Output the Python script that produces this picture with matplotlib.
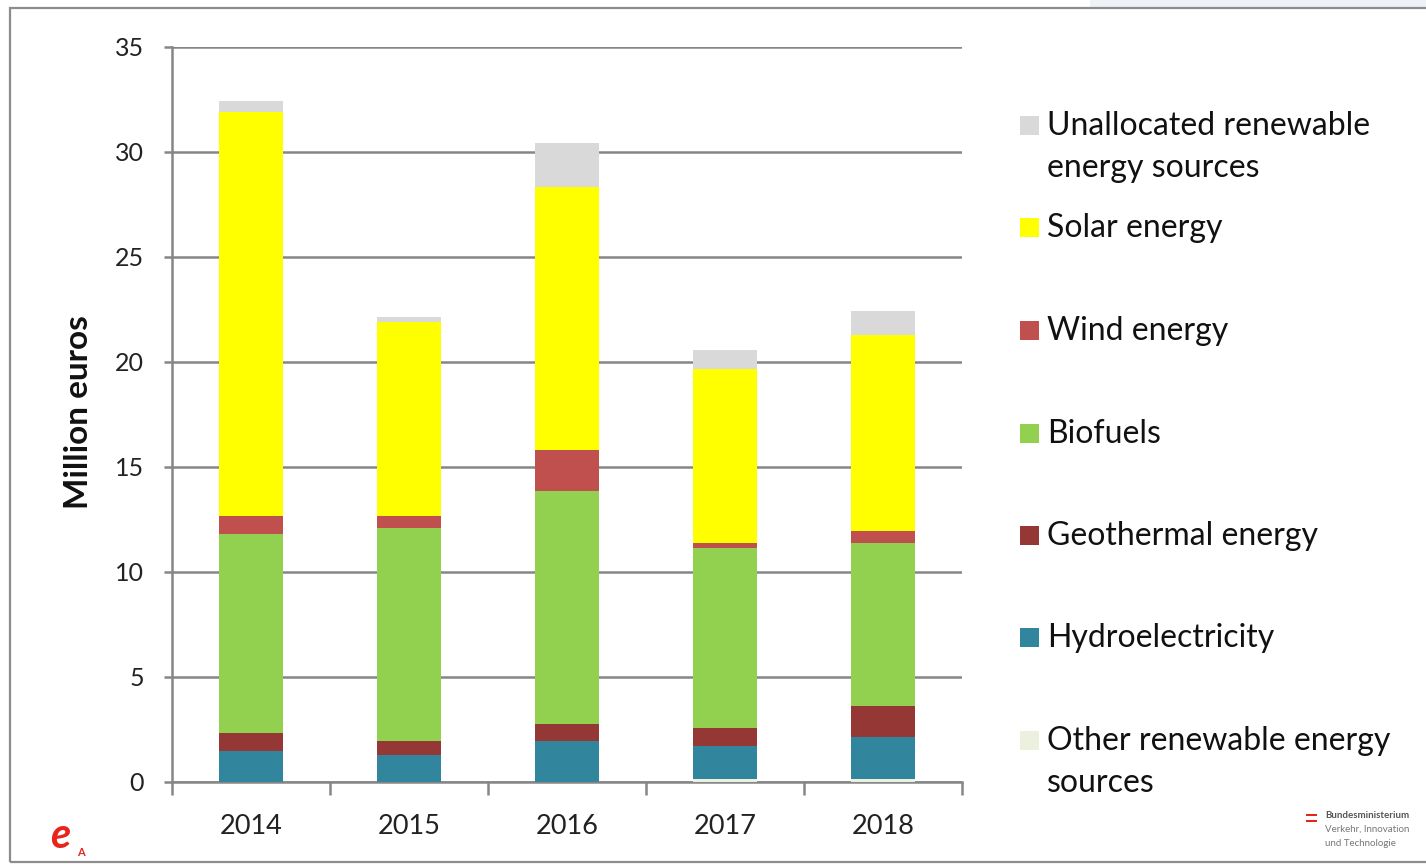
import numpy as np
import matplotlib
matplotlib.use("Agg")
import matplotlib.pyplot as plt
from matplotlib.patches import Rectangle

plt.rcParams['font.family'] = ['Lato', 'DejaVu Sans']

# values in million euros
years = ["2014", "2015", "2016", "2017", "2018"]
other = [0.0, 0.0, 0.0, 0.15, 0.15]
hydro = [1.47, 1.28, 1.96, 1.57, 1.97]
geothermal = [0.85, 0.67, 0.82, 0.83, 1.48]
biofuels = [9.47, 10.16, 11.07, 8.57, 7.78]
wind = [0.87, 0.55, 1.97, 0.26, 0.57]
solar = [19.23, 9.24, 12.53, 8.29, 9.35]
unallocated = [0.54, 0.22, 2.10, 0.90, 1.14]

series = [
    ("Other renewable energy\nsources", other, "#EBF1DE"),
    ("Hydroelectricity", hydro, "#31859C"),
    ("Geothermal energy", geothermal, "#953735"),
    ("Biofuels", biofuels, "#92D050"),
    ("Wind energy", wind, "#C0504D"),
    ("Solar energy", solar, "#FFFF00"),
    ("Unallocated renewable\nenergy sources", unallocated, "#D9D9D9"),
]

grid_col = "#868686"

fig = plt.figure(figsize=(14.26, 8.65), dpi=100)
ax = fig.add_axes([0.1206, 0.0960, 0.554, 0.8497])

x = np.arange(len(years))
bottom = np.zeros(len(years))
for name, vals, col in series:
    ax.bar(x, vals, width=0.4, bottom=bottom, color=col, zorder=3)
    bottom += np.array(vals)

ax.set_xlim(-0.5, len(years) - 0.5)
ax.set_ylim(0, 35)
ax.set_yticks(np.arange(0, 36, 5))
ax.set_yticklabels([str(v) for v in range(0, 36, 5)], fontsize=18, color="#222222")
ax.yaxis.grid(True, color=grid_col, linewidth=1.8, zorder=0)
ax.set_axisbelow(True)

# ticks between categories, labels at the bar centres
ax.set_xticks(np.arange(-0.5, len(years), 1.0))
ax.set_xticklabels([])
ax.set_xticks(x, minor=True)
ax.set_xticklabels(years, minor=True, fontsize=19.5, color="#222222")
ax.tick_params(axis="x", which="major", length=9, width=1.8, color=grid_col, direction="out")
ax.tick_params(axis="x", which="minor", length=0, pad=23)
ax.tick_params(axis="y", length=6, width=1.8, color=grid_col, pad=14)

for s in ["top", "right"]:
    ax.spines[s].set_visible(False)
for s in ["left", "bottom"]:
    ax.spines[s].set_color(grid_col)
    ax.spines[s].set_linewidth(1.8)

fig.text(78 / 1426, 1 - 412 / 865, "Million euros", rotation=90, fontsize=24,
         fontweight="bold", ha="center", va="center", color="#111111")

# legend drawn by hand, top to bottom
W, H = 1426.0, 865.0
leg_y = [125, 227, 330, 433, 535, 637, 740]
for (name, vals, col), yy in zip(series[::-1], leg_y):
    fig.add_artist(Rectangle((1020 / W, 1 - (yy + 10) / H), 19 / W, 19 / H,
                             transform=fig.transFigure, facecolor=col, edgecolor="none"))
    fig.text(1047 / W, 1 - (yy - 14) / H, name, fontsize=23, va="top", ha="left",
             color="#111111", linespacing=1.5)

# outer frame and top band
fig.add_artist(Rectangle((1090 / W, 1 - 7 / H), 1 - 1090 / W, 7 / H, transform=fig.transFigure,
                         facecolor="#EEF2F6", edgecolor="none"))
fig.add_artist(Rectangle((10 / W, 1 - 862 / H), 1.1, (862 - 8) / H, transform=fig.transFigure,
                         facecolor="none", edgecolor="#8C8C8C", linewidth=1.6, clip_on=False))

# logos
fig.text(60 / W, 1 - 836 / H, "e", fontsize=30, fontstyle="italic", fontweight="bold",
         color="#E8251B", ha="center", va="center")
fig.text(81 / W, 1 - 853 / H, "A", fontsize=8, fontweight="bold",
         color="#E8251B", ha="center", va="center")
fig.add_artist(Rectangle((1306 / W, 1 - 816 / H), 11 / W, 2.5 / H, transform=fig.transFigure,
                         facecolor="#E8251B", edgecolor="none"))
fig.add_artist(Rectangle((1306 / W, 1 - 822 / H), 11 / W, 2.5 / H, transform=fig.transFigure,
                         facecolor="#E8251B", edgecolor="none"))
fig.text(1325 / W, 1 - 815 / H, "Bundesministerium", fontsize=7, fontweight="bold",
         color="#555555", ha="left", va="center")
fig.text(1325 / W, 1 - 829 / H, "Verkehr, Innovation", fontsize=7,
         color="#777777", ha="left", va="center")
fig.text(1325 / W, 1 - 843 / H, "und Technologie", fontsize=7,
         color="#777777", ha="left", va="center")

fig.savefig("out.png", dpi=100)
